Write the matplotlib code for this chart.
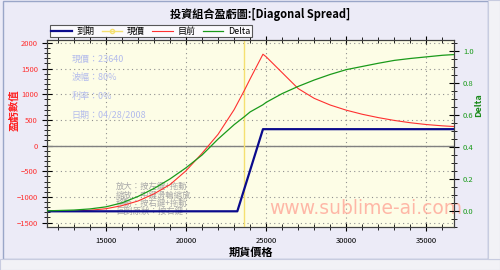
import numpy as np
from matplotlib import pyplot as plt
from matplotlib.ticker import MultipleLocator
from matplotlib.patches import Rectangle

plt.rcParams['font.family'] = ['Noto Sans CJK TC', 'DejaVu Sans']

# expiry P/L (piecewise)
expiry_x = [11300, 23200, 24800, 36800]
expiry_y = [-1280, -1280, 320, 320]

# current P/L and delta
price_x = [11300, 12000, 13000, 14000, 15000, 16000, 17000, 18000, 19000, 20000,
           21000, 22000, 23000, 23640, 24000, 24800, 25000, 26000, 27000, 28000,
           29000, 30000, 31000, 32000, 33000, 34000, 35000, 36000, 36800]
current_pl = [-1282, -1280, -1275, -1260, -1230, -1170, -1080, -940, -760, -490,
              -150, 220, 700, 1076, 1300, 1780, 1730, 1420, 1110, 920,
              790, 690, 610, 545, 490, 445, 410, 385, 370]
delta = [0.0, 0.002, 0.005, 0.012, 0.025, 0.05, 0.09, 0.14, 0.20, 0.27,
         0.35, 0.45, 0.54, 0.59, 0.62, 0.665, 0.68, 0.735, 0.78, 0.82,
         0.855, 0.885, 0.905, 0.925, 0.943, 0.955, 0.965, 0.975, 0.98]

spot = 23640
info_lines = ['現價：23640', '波幅：80%', '利率：0%', '日期：04/28/2008']
help_lines = ['放大：按左鍵+拖動', '縮放：中鍵滑輪縮放', '移動：按右鍵+拖動', '回到原狀：按右鍵']

fig = plt.figure(figsize=(5, 2.7), dpi=100)
fig.patch.set_facecolor('#ecebf7')

# window frame / scroll bars
fig.patches.append(Rectangle((0.006, 0.04), 0.97, 0.955, transform=fig.transFigure,
                             fill=False, edgecolor='#9aa6c8', lw=1))
fig.patches.append(Rectangle((0.0, 0.0), 1.0, 0.04, transform=fig.transFigure,
                             facecolor='#f2f2f6', edgecolor='#c8cce0', lw=0.8))
fig.patches.append(Rectangle((0.976, 0.04), 0.024, 0.96, transform=fig.transFigure,
                             facecolor='#f2f2f6', edgecolor='#c8cce0', lw=0.8))

ax = fig.add_axes([0.094, 0.160, 0.814, 0.692])
ax.set_facecolor('#fdfde6')
ax2 = ax.twinx()

ax.plot(expiry_x, expiry_y, color='#0a0a8c', lw=1.6, label='到期', zorder=5)
ax.axvline(spot, color='#f5e070', lw=1.0, zorder=3)
ax.plot([], [], color='#f5e070', lw=1.0, marker='o', ms=3, mfc='none', label='現價')
ax.plot(price_x, current_pl, color='#ff3030', lw=0.8, label='目前', zorder=4)
ax2.plot(price_x, delta, color='#1a9a1a', lw=0.9, zorder=4)
ax.plot([], [], color='#1a9a1a', lw=0.9, label='Delta')

ax.axhline(0, color='#808080', lw=1.0, zorder=2)

ax.set_xlim(11325, 36720)
ax.set_ylim(-1582, 2058)
ax2.set_ylim(-0.100, 1.071)

ax.xaxis.set_major_locator(MultipleLocator(5000))
ax.xaxis.set_minor_locator(MultipleLocator(1000))
ax.yaxis.set_major_locator(MultipleLocator(500))
ax.yaxis.set_minor_locator(MultipleLocator(100))
ax2.yaxis.set_major_locator(MultipleLocator(0.2))
ax2.yaxis.set_minor_locator(MultipleLocator(0.05))
ax2.yaxis.set_major_formatter(lambda v, p: f'{v:.1f}')

ax.grid(True, which='major', color='#909090', ls=(0, (1, 3)), lw=0.8)
ax.tick_params(axis='x', which='both', direction='inout', top=True, labelsize=5.5, pad=4)
ax.tick_params(axis='x', which='major', length=6)
ax.tick_params(axis='x', which='minor', length=4)
ax.tick_params(axis='y', which='both', direction='inout', labelsize=5.5, labelcolor='#ff3030', pad=3)
ax.tick_params(axis='y', which='major', length=7)
ax.tick_params(axis='y', which='minor', length=4)
ax2.tick_params(axis='y', which='both', direction='inout', labelsize=5.5, labelcolor='#1a9a1a', pad=3)
ax2.tick_params(axis='y', which='major', length=7)
ax2.tick_params(axis='y', which='minor', length=4)
for sp in list(ax.spines.values()) + list(ax2.spines.values()):
    sp.set_color('#404040')
    sp.set_linewidth(0.8)

ax.set_xlabel('期貨價格', fontsize=8, fontweight='bold', labelpad=1)
fig.text(0.028, 0.59, '盈虧數值', rotation=90, ha='center', va='center',
         fontsize=7.5, fontweight='bold', color='#ff2020')
fig.text(0.957, 0.61, 'Delta', rotation=90, ha='center', va='center',
         fontsize=6.5, fontweight='bold', color='#1a8a1a')

fig.text(0.52, 0.945, '投資組合盈虧圖:[Diagonal Spread]', ha='center', va='center',
         fontsize=8, fontweight='bold')

leg = ax.legend(loc='lower left', bbox_to_anchor=(0.0, 1.0), ncol=4, fontsize=6.5,
                frameon=True, fancybox=False, borderpad=0.15, handlelength=2.3,
                columnspacing=0.8, handletextpad=0.5, borderaxespad=0.3)
leg.get_frame().set_edgecolor('#303030')
leg.get_frame().set_linewidth(0.8)
leg.get_frame().set_facecolor('white')

for i, t in enumerate(info_lines):
    ax.text(0.06, 0.895 - i * 0.098, t, transform=ax.transAxes, color='#b4bcec',
            fontsize=6.5, va='center')
for i, t in enumerate(help_lines):
    ax.text(0.17, 0.215 - i * 0.045, t, transform=ax.transAxes, color='#a8a8a8',
            fontsize=6, va='center')
ax.text(0.545, 0.10, 'www.sublime-ai.com', transform=ax.transAxes, color='#ffb0a0',
        fontsize=13.5, va='center', alpha=0.9, family=['DejaVu Sans'])

fig.savefig('out.png', dpi=100, facecolor=fig.get_facecolor())
